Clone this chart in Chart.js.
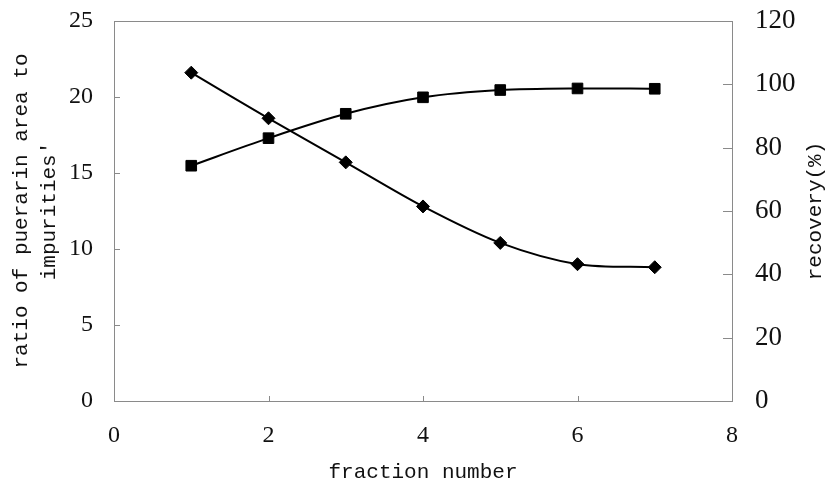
<!DOCTYPE html>
<html>
<head>
<meta charset="utf-8">
<script src="https://cdn.jsdelivr.net/npm/chart.js@4.4.0/dist/chart.umd.min.js"></script>
<style>
  html, body { margin: 0; padding: 0; background: #fff; }
  #wrap { width: 830px; height: 481px; position: relative; }
</style>
</head>
<body>
<div id="wrap"><canvas id="chart"></canvas></div>
<script>
// data
const fractions = [1, 2, 3, 4, 5, 6, 7];
const ratioValues = [21.6, 18.6, 15.7, 12.8, 10.4, 9.0, 8.8];
const recoveryValues = [74.3, 83.0, 90.7, 95.9, 98.2, 98.7, 98.6];
const xTicks = [0, 2, 4, 6, 8];
const leftTicks = [0, 5, 10, 15, 20, 25];
const rightTicks = [0, 20, 40, 60, 80, 100, 120];

const serif = '"Liberation Serif", "DejaVu Serif", serif';
const tickFont = { family: serif, size: 24 };
const rightTickFont = { family: serif, size: 27 };
const titleFont = { family: '"Liberation Mono", "DejaVu Sans Mono", monospace', size: 21, lineHeight: 1.3 };
const ink = '#111';

// frame + inward tick marks, and the right title (reads bottom-to-top like the left one)
const framePlugin = {
  id: 'frame',
  afterDatasetsDraw(chart) {
    const { ctx, chartArea: a, scales } = chart;
    ctx.save();
    ctx.strokeStyle = '#8a8a8a';
    ctx.lineWidth = 1;
    ctx.strokeRect(a.left + 0.5, a.top + 0.5, a.right - a.left, a.bottom - a.top);
    ctx.beginPath();
    xTicks.forEach(v => {
      const px = Math.round(scales.x.getPixelForValue(v)) + 0.5;
      ctx.moveTo(px, a.bottom); ctx.lineTo(px, a.bottom - 5);
    });
    leftTicks.forEach(v => {
      const py = Math.round(scales.y.getPixelForValue(v)) + 0.5;
      ctx.moveTo(a.left, py); ctx.lineTo(a.left + 6, py);
    });
    rightTicks.forEach(v => {
      const py = Math.round(scales.y2.getPixelForValue(v)) + 0.5;
      ctx.moveTo(a.right, py); ctx.lineTo(a.right - 9, py);
    });
    ctx.stroke();

    ctx.fillStyle = ink;
    ctx.font = titleFont.size + 'px ' + titleFont.family;
    ctx.textAlign = 'center';
    ctx.textBaseline = 'middle';
    ctx.translate(815, (a.top + a.bottom) / 2);
    ctx.rotate(-Math.PI / 2);
    ctx.fillText('recovery(%)', 0, 0);
    ctx.restore();
  }
};

new Chart(document.getElementById('chart'), {
  type: 'scatter',
  data: {
    datasets: [{
      label: 'ratio',
      data: fractions.map((f, i) => ({ x: f, y: ratioValues[i] })),
      yAxisID: 'y',
      showLine: true,
      borderColor: '#000',
      backgroundColor: '#000',
      borderWidth: 2,
      tension: 0.3,
      pointStyle: 'rectRot',
      pointRadius: 6.5,
      pointBorderWidth: 1
    }, {
      label: 'recovery',
      data: fractions.map((f, i) => ({ x: f, y: recoveryValues[i] })),
      yAxisID: 'y2',
      showLine: true,
      borderColor: '#000',
      backgroundColor: '#000',
      borderWidth: 2,
      tension: 0.3,
      pointStyle: 'rect',
      pointRadius: 7.5,
      pointBorderWidth: 1
    }]
  },
  options: {
    responsive: true,
    maintainAspectRatio: false,
    animation: false,
    layout: { padding: { top: 21, left: 0, right: 0, bottom: 0 } },
    plugins: {
      legend: { display: false },
      tooltip: { enabled: false }
    },
    scales: {
      x: {
        type: 'linear',
        min: 0,
        max: 8,
        afterFit: (s) => { s.height = 80; },
        afterBuildTicks: (s) => { s.ticks = xTicks.map(v => ({ value: v })); },
        grid: { display: false, drawTicks: false },
        border: { display: false },
        ticks: { font: tickFont, color: ink, padding: 20 },
        title: { display: true, text: 'fraction number', font: titleFont, color: ink, padding: { top: 0, bottom: -5 } }
      },
      y: {
        position: 'left',
        min: 0,
        max: 25,
        afterFit: (s) => { s.width = 114; s.paddingTop = 0; s.paddingBottom = 0; },
        afterBuildTicks: (s) => { s.ticks = leftTicks.map(v => ({ value: v })); },
        grid: { display: false, drawTicks: false },
        border: { display: false },
        ticks: { font: tickFont, color: ink, padding: 21 },
        title: { display: true, text: ['ratio of puerarin area to', "impurities'"], font: titleFont, color: ink, padding: { top: 8, bottom: 0 } }
      },
      y2: {
        position: 'right',
        min: 0,
        max: 120,
        afterFit: (s) => { s.width = 98; s.paddingTop = 0; s.paddingBottom = 0; },
        afterBuildTicks: (s) => { s.ticks = rightTicks.map(v => ({ value: v })); },
        grid: { display: false, drawTicks: false },
        border: { display: false },
        ticks: { font: rightTickFont, color: ink, padding: 23 }
      }
    }
  },
  plugins: [framePlugin]
});
</script>
</body>
</html>
